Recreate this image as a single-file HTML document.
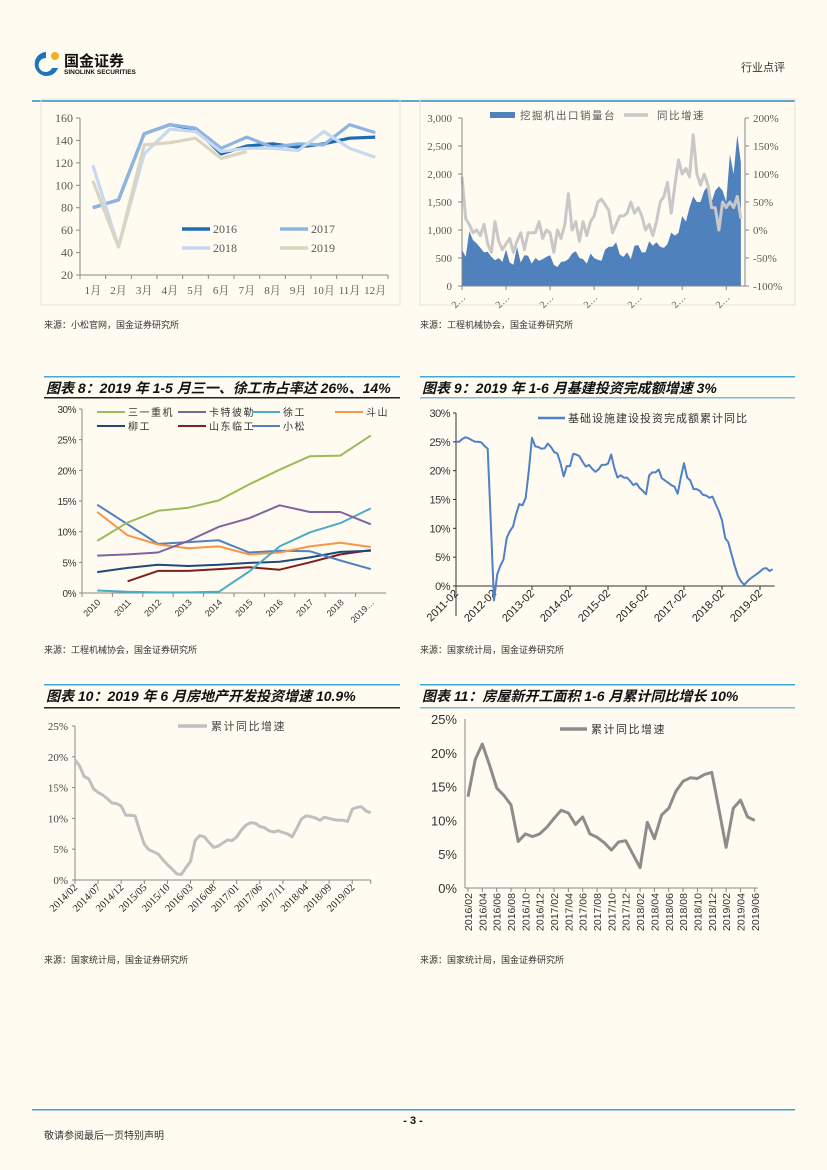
<!DOCTYPE html>
<html><head><meta charset="utf-8">
<style>
html,body{margin:0;padding:0;background:#fffbf0;}
svg{display:block;font-family:"Liberation Sans","Noto Sans CJK SC",sans-serif;}
.serif{font-family:"Liberation Serif","Noto Serif CJK SC",serif;}
.cjk{font-family:"Liberation Sans","Noto Sans CJK SC",sans-serif;}
</style></head>
<body>
<svg id="page" width="827" height="1170" viewBox="0 0 827 1170" xmlns="http://www.w3.org/2000/svg">
<rect x="0" y="0" width="827" height="1170" fill="#fffbf0"/>
<g>
  <path d="M46 52 a12 12 0 1 0 12 16 l-6 0 a7 7 0 1 1 -6 -10 z" fill="#1b75bb"/>
  <circle cx="55" cy="56" r="4" fill="#f4b223"/>
  <text x="64" y="66" font-size="15" font-weight="bold" fill="#111">国金证券</text>
  <text x="64" y="74" font-size="6.5" font-weight="bold" fill="#111">SINOLINK SECURITIES</text>
</g>
<text x="785" y="71" font-size="11" text-anchor="end" fill="#333">行业点评</text>
<rect x="32" y="100" width="763" height="2" fill="#5fa8cc"/>

<rect x="41" y="99" width="359" height="206" fill="none" stroke="#e4e2dc"/>
<rect x="420" y="99" width="375" height="206" fill="none" stroke="#e4e2dc"/>
<text x="44" y="328" font-size="9" fill="#333">来源：小松官网，国金证券研究所</text>
<text x="420" y="328" font-size="9" fill="#333">来源：工程机械协会，国金证券研究所</text>

<g>
<rect x="44" y="376" width="356" height="1.5" fill="#3fa9d6"/>
<text x="46" y="393" font-size="14" font-weight="bold" font-style="italic" fill="#111">图表 8：2019 年 1-5 月三一、徐工市占率达 26%、14%</text>
<rect x="44" y="397" width="356" height="1.5" fill="#222"/>
</g>
<g>
<rect x="420" y="376" width="375" height="1.5" fill="#3fa9d6"/>
<text x="422" y="393" font-size="14" font-weight="bold" font-style="italic" fill="#111">图表 9：2019 年 1-6 月基建投资完成额增速 3%</text>
<rect x="420" y="397" width="375" height="1.5" fill="#7fb9d6"/>
</g>
<text x="44" y="653" font-size="9" fill="#333">来源：工程机械协会，国金证券研究所</text>
<text x="420" y="653" font-size="9" fill="#333">来源：国家统计局，国金证券研究所</text>

<g>
<rect x="44" y="684" width="356" height="1.5" fill="#3fa9d6"/>
<text x="46" y="701" font-size="14" font-weight="bold" font-style="italic" fill="#111">图表 10：2019 年 6 月房地产开发投资增速 10.9%</text>
<rect x="44" y="707" width="356" height="1.5" fill="#222"/>
</g>
<g>
<rect x="420" y="684" width="375" height="1.5" fill="#3fa9d6"/>
<text x="422" y="701" font-size="14" font-weight="bold" font-style="italic" fill="#111">图表 11：房屋新开工面积 1-6 月累计同比增长 10%</text>
<rect x="420" y="707" width="375" height="1.5" fill="#7fb9d6"/>
</g>
<text x="44" y="963" font-size="9" fill="#333">来源：国家统计局，国金证券研究所</text>
<text x="420" y="963" font-size="9" fill="#333">来源：国家统计局，国金证券研究所</text>

<rect x="32" y="1109" width="763" height="1.5" fill="#3ea0d8"/>
<text x="413" y="1124" font-size="11" font-weight="bold" text-anchor="middle" fill="#111">- 3 -</text>
<text x="44" y="1139" font-size="10" fill="#333">敬请参阅最后一页特别声明</text>
<g id="charts"></g>
</svg>
<script>
// ---------- chart 1 data ----------
const c1Months = ["1月","2月","3月","4月","5月","6月","7月","8月","9月","10月","11月","12月"];
const c1Ticks = [20,40,60,80,100,120,140,160];
const c1Y2016 = [80,87,146,154,150,128,135,137,134,137,142,143];
const c1Y2017 = [80,87,146,154,151,133,143,134,137,136,154,147];
const c1Y2018 = [118,45,128,150,148,130,133,133,131,148,133,125];
const c1Y2019 = [104,45,136,138,142,124,130];
// ---------- chart 2 data ----------
const c2Sales = [650,520,980,820,760,680,600,610,520,460,500,430,
 650,420,380,700,420,550,540,400,500,450,480,520,
 550,380,340,430,440,480,580,620,500,480,400,580,
 500,470,450,650,700,700,780,560,520,600,480,720,
 730,600,600,800,720,780,700,680,750,950,900,950,
 1250,1150,1400,1600,1500,1500,1700,1780,1500,1700,1780,1700,
 1500,2350,2000,2700,2200];
const c2Growth = [95,20,10,-5,0,-10,10,-25,-40,15,-20,-35,
 -25,-15,-40,-20,-5,-35,-5,-5,-5,15,-15,0,
 -5,-40,0,-15,10,65,0,15,-20,15,-10,15,
 25,50,55,45,35,-5,10,25,25,30,50,30,
 40,25,0,10,-10,15,50,60,85,30,80,125,
 100,110,95,170,100,80,100,80,40,40,0,50,
 40,50,40,60,20];
const c2LeftTicks = [0,500,1000,1500,2000,2500,3000];
const c2LeftLabels = ["0","500","1,000","1,500","2,000","2,500","3,000"];
const c2RightTicks = [-100,-50,0,50,100,150,200];
// ---------- chart 8 data ----------
const c8Years = ["2010","2011","2012","2013","2014","2015","2016","2017","2018","2019…"];
const c8Sany = [8.5,11.5,13.4,13.9,15.1,17.7,20.1,22.3,22.4,25.7];
const c8Cat = [6.1,6.3,6.6,8.5,10.8,12.2,14.3,13.2,13.2,11.2];
const c8Xcmg = [0.4,0.2,0.1,0.1,0.2,3.5,7.6,9.9,11.4,13.8];
const c8Doosan = [13.2,9.4,7.9,7.3,7.6,6.3,6.6,7.6,8.2,7.5];
const c8Liugong = [3.4,4.1,4.6,4.4,4.6,4.9,5.1,5.8,6.7,6.9];
const c8Lingong = [null,1.9,3.6,3.6,3.9,4.2,3.8,5.0,6.3,7.0];
const c8Komatsu = [14.4,11.2,8.0,8.3,8.6,6.6,6.9,6.8,5.3,3.9];
const c8Ticks = [0,5,10,15,20,25,30];
// ---------- chart 9 data ----------
const c9Values = [25,25,25.5,25.8,25.6,25.3,25,25,24.9,24.3,23.8,11,
 -2.5,2,3.5,4.6,8.3,9.5,10.3,12.5,14.2,14,15.3,20,
 25.7,24.2,24.1,23.8,23.9,24.7,24.1,23.2,23,21.3,19,20.8,
 20.8,22.9,22.8,22.5,21.5,20.7,21,20.3,19.8,20.2,21,21,
 21.2,22.8,20.5,18.8,19.2,18.8,18.8,18.2,17.5,17.8,17,16.5,
 15.9,19.2,19.7,19.7,20.2,18.7,18.3,17.9,17.5,17.2,16,18.8,
 21.3,18.8,18.3,16.8,16.8,16.5,15.8,15.7,15.3,15.5,14.2,13,
 11.4,8.3,7.6,5.5,3.5,1.8,0.8,0.2,0.8,1.3,1.7,2.1,
 2.5,3,3.1,2.6,2.9];
const c9YearLabels = ["2011-02","2012-02","2013-02","2014-02","2015-02","2016-02","2017-02","2018-02","2019-02"];
const c9Ticks = [0,5,10,15,20,25,30];
// ---------- chart 10 data ----------
const c10Values = [19.5,18.5,16.8,16.4,14.8,14.2,13.8,13.2,12.5,12.4,12,10.5,10.5,10.4,8,5.8,4.9,4.6,4.2,3.3,2.5,1.8,1,0.9,2,3,6.4,7.2,7,6.1,5.3,5.5,6,6.5,6.4,7,8.1,8.9,9.3,9.2,8.7,8.5,8,7.8,8,7.7,7.5,7,8.4,9.9,10.4,10.3,10.1,9.7,10.2,10,9.8,9.7,9.7,9.5,11.5,11.8,11.9,11.2,10.9];
const c10Labels = ["2014/02","2014/07","2014/12","2015/05","2015/10","2016/03","2016/08","2017/01","2017/06","2017/11","2018/04","2018/09","2019/02"];
const c10Ticks = [0,5,10,15,20,25];
// ---------- chart 11 data ----------
const c11Values = [13.5,19,21.3,18.2,14.8,13.7,12.3,6.9,8,7.6,8,9,10.3,11.5,11.1,9.4,10.5,8,7.5,6.7,5.6,6.8,7,5,3,9.7,7.3,10.8,11.8,14.3,15.8,16.3,16.2,16.8,17.1,11.6,6,11.8,13,10.5,10];
const c11Labels = ["2016/02","2016/04","2016/06","2016/08","2016/10","2016/12","2017/02","2017/04","2017/06","2017/08","2017/10","2017/12","2018/02","2018/04","2018/06","2018/08","2018/10","2018/12","2019/02","2019/04","2019/06"];
const c11Ticks = [0,5,10,15,20,25];

const NS = "http://www.w3.org/2000/svg";
const root = document.getElementById("charts");
function mk(tag, attrs, parent){
  const e = document.createElementNS(NS, tag);
  for (const k in attrs) e.setAttribute(k, attrs[k]);
  (parent||root).appendChild(e);
  return e;
}
function txt(str, attrs, parent){
  const e = mk("text", attrs, parent);
  e.textContent = str;
  return e;
}
function pathOf(vals, xf, yf){
  let d = "", pen = false;
  vals.forEach((v,i)=>{
    if (v===null){ pen=false; return; }
    d += (pen?"L":"M") + xf(i).toFixed(1) + " " + yf(v).toFixed(1) + " ";
    pen = true;
  });
  return d;
}
function group(){ return mk("g", {}); }

// ===== Chart 1 =====
(function(){
  const g = group();
  
  
  const x0=80, x1=388, yb=275, yt=118;
  const bw=(x1-x0)/c1Months.length;
  const x = i => x0 + bw*(i+0.5);
  const y = v => yb - (v-20)/140*(yb-yt);
  mk("line",{x1:x0,y1:yt,x2:x0,y2:yb,stroke:"#888","stroke-width":1},g);
  mk("line",{x1:x0,y1:yb,x2:x1,y2:yb,stroke:"#888","stroke-width":1},g);
  c1Ticks.forEach(t=>{
    mk("line",{x1:x0-4,y1:y(t),x2:x0,y2:y(t),stroke:"#888"},g);
    const l = txt(String(t),{x:x0-7,y:y(t)+4,"font-size":12,"text-anchor":"end",fill:"#595959",class:"serif"},g);
    
    
  });
  c1Months.forEach((m,i)=>{
    mk("line",{x1:x0+bw*i,y1:yb,x2:x0+bw*i,y2:yb+4,stroke:"#888"},g);
    const l = txt(m,{x:x(i),y:yb+19,"font-size":11,"text-anchor":"middle",fill:"#595959",class:"serif"},g);
    
    
  });
  mk("line",{x1:x1,y1:yb,x2:x1,y2:yb+4,stroke:"#888"},g);
  const series=[[c1Y2016,"#1f6cb0","2016"],[c1Y2017,"#8eb4e3","2017"],[c1Y2018,"#c6d9f0","2018"],[c1Y2019,"#d9d5c0","2019"]];
  series.forEach(s=>{
    const p = mk("path",{d:pathOf(s[0],x,y),fill:"none",stroke:s[1],"stroke-width":3.2,"stroke-linejoin":"round"},g);
    
    
  });
  const leg=[["2016","#1f6cb0",182,229],["2017","#8eb4e3",280,229],["2018","#c6d9f0",182,248],["2019","#d9d5c0",280,248]];
  leg.forEach(l=>{
    const e = mk("g",{},g);
    
    
    mk("line",{x1:l[2],y1:l[3],x2:l[2]+28,y2:l[3],stroke:l[1],"stroke-width":3.5},e);
    txt(l[0],{x:l[2]+31,y:l[3]+4,"font-size":12,fill:"#595959",class:"serif"},e);
  });
})();

// ===== Chart 2 =====
(function(){
  const g = group();
  
  
  const x0=462, xr=745, yb=286, yt=118;
  const step=3.67;
  const x = i => x0 + i*step;
  const yL = v => yb - v/3000*(yb-yt);
  const yR = p => yb - (p+100)/300*(yb-yt);
  let d = "M"+x(0)+" "+yb+" ";
  c2Sales.forEach((v,i)=>{ d += "L"+x(i).toFixed(1)+" "+yL(v).toFixed(1)+" "; });
  d += "L"+x(c2Sales.length-1).toFixed(1)+" "+yb+" Z";
  const a = mk("path",{d:d,fill:"#4f81bd"},g);
  
  
  const ln = mk("path",{d:pathOf(c2Growth,x,yR),fill:"none",stroke:"#c8c8c8","stroke-width":3,"stroke-linejoin":"round"},g);
  
  
  mk("line",{x1:x0,y1:yt,x2:x0,y2:yb,stroke:"#888"},g);
  mk("line",{x1:xr,y1:yt,x2:xr,y2:yb,stroke:"#888"},g);
  mk("line",{x1:x0,y1:yb,x2:xr,y2:yb,stroke:"#888"},g);
  c2LeftTicks.forEach((t,i)=>{
    mk("line",{x1:x0-4,y1:yL(t),x2:x0,y2:yL(t),stroke:"#888"},g);
    const l = txt(c2LeftLabels[i],{x:x0-10,y:yL(t)+4,"font-size":11,"text-anchor":"end",fill:"#595959",class:"serif"},g);
    
    
  });
  c2RightTicks.forEach(t=>{
    mk("line",{x1:xr,y1:yR(t),x2:xr+4,y2:yR(t),stroke:"#888"},g);
    const l = txt(t+"%",{x:xr+8,y:yR(t)+4,"font-size":11,fill:"#595959",class:"serif"},g);
    
    
  });
  for (let i=0;i<c2Sales.length;i+=12){
    mk("line",{x1:x(i),y1:yb,x2:x(i),y2:yb+4,stroke:"#888"},g);
    const l = txt("2…",{x:x(i)+4,y:yb+12,"font-size":10,"text-anchor":"end",fill:"#595959",class:"serif",transform:"rotate(-45 "+(x(i)+4)+" "+(yb+12)+")"},g);
    
    
  }
  const l1 = mk("g",{},g);
  
  
  mk("rect",{x:490,y:112,width:25,height:6,fill:"#4f81bd"},l1);
  txt("挖掘机出口销量台",{x:520,y:119,"font-size":10.5,fill:"#595959","letter-spacing":"1.5"},l1);
  const l2 = mk("g",{},g);
  
  
  mk("line",{x1:624,y1:115,x2:648,y2:115,stroke:"#c8c8c8","stroke-width":3.5},l2);
  txt("同比增速",{x:657,y:119,"font-size":10.5,fill:"#595959","letter-spacing":"1.5"},l2);
})();

// ===== Chart 8 =====
(function(){
  const g = group();
  
  
  const x0=82, yb=593, yt=409, bw=30.4;
  const x1 = x0 + bw*c8Years.length;
  const x = i => x0 + bw*(i+0.5);
  const y = v => yb - v/30*(yb-yt);
  mk("line",{x1:x0,y1:yt,x2:x0,y2:yb,stroke:"#888"},g);
  mk("line",{x1:x0,y1:yb,x2:x1,y2:yb,stroke:"#888"},g);
  c8Ticks.forEach(t=>{
    mk("line",{x1:x0-3,y1:y(t),x2:x0,y2:y(t),stroke:"#888"},g);
    const l = txt(t+"%",{x:x0-6,y:y(t)+4,"font-size":10,"text-anchor":"end",fill:"#333","letter-spacing":"-0.5"},g);
    
    
  });
  c8Years.forEach((yr,i)=>{
    mk("line",{x1:x0+bw*i,y1:yb,x2:x0+bw*i,y2:yb+4,stroke:"#888"},g);
    const lx=x(i)+4, ly=yb+10;
    const l = txt(yr,{x:lx,y:ly,"font-size":9,"text-anchor":"end",fill:"#333",transform:"rotate(-45 "+lx+" "+ly+")"},g);
    
    
  });
  const series=[[c8Lingong,"#7f1f1f","山东临工"],[c8Liugong,"#1f497d","柳工"],[c8Komatsu,"#4f81bd","小松"],[c8Doosan,"#f79646","斗山"],[c8Xcmg,"#4bacc6","徐工"],[c8Cat,"#8064a2","卡特彼勒"],[c8Sany,"#9bbb59","三一重机"]];
  series.forEach(s=>{
    const p = mk("path",{d:pathOf(s[0],x,y),fill:"none",stroke:s[1],"stroke-width":2,"stroke-linejoin":"round"},g);
    
    
  });
  const leg=[["三一重机","#9bbb59",97,412],["卡特彼勒","#8064a2",178,412],["徐工","#4bacc6",252,412],["斗山","#f79646",335,412],["柳工","#1f497d",97,426],["山东临工","#7f1f1f",178,426],["小松","#4f81bd",252,426]];
  leg.forEach(l=>{
    const e = mk("g",{},g);
    
    
    mk("line",{x1:l[2],y1:l[3],x2:l[2]+28,y2:l[3],stroke:l[1],"stroke-width":2},e);
    txt(l[0],{x:l[2]+31,y:l[3]+4,"font-size":10,fill:"#333","letter-spacing":"1.5"},e);
  });
})();

// ===== Chart 9 =====
(function(){
  const g = group();
  
  
  const x0=456, yb=586, yt=413, step=38/12;
  const x = i => x0 + i*step;
  const y = v => yb - v/30*(yb-yt);
  mk("line",{x1:x0,y1:yt,x2:x0,y2:yb+30,stroke:"#333"},g);
  mk("line",{x1:x0,y1:yb,x2:x(c9Values.length-1)+2,y2:yb,stroke:"#333"},g);
  c9Ticks.forEach(t=>{
    mk("line",{x1:x0-3,y1:y(t),x2:x0,y2:y(t),stroke:"#333"},g);
    const l = txt(t+"%",{x:x0-6,y:y(t)+4,"font-size":11,"text-anchor":"end",fill:"#333","letter-spacing":"-0.5"},g);
    
    
  });
  c9YearLabels.forEach((lab,k)=>{
    const xi = x(k*12);
    mk("line",{x1:xi,y1:yb,x2:xi,y2:yb+4,stroke:"#333"},g);
    const lx=xi+3, ly=yb+8;
    const l = txt(lab,{x:lx,y:ly,"font-size":11,"text-anchor":"end",fill:"#222",transform:"rotate(-45 "+lx+" "+ly+")"},g);
    
    
  });
  const p = mk("path",{d:pathOf(c9Values,x,y),fill:"none",stroke:"#4f81c9","stroke-width":2,"stroke-linejoin":"round"},g);
  
  
  const e = mk("g",{},g);
  
  
  mk("line",{x1:538,y1:418,x2:565,y2:418,stroke:"#4f81c9","stroke-width":2.5},e);
  txt("基础设施建设投资完成额累计同比",{x:568,y:422,"font-size":11,fill:"#333","letter-spacing":"1"},e);
})();

// ===== Chart 10 =====
(function(){
  const g = group();
  
  
  const x0=75, yb=880, yt=726, step=4.62;
  const x = i => x0 + i*step;
  const y = v => yb - v/25*(yb-yt);
  const xEnd = x(c10Values.length-1);
  mk("line",{x1:x0,y1:yt,x2:x0,y2:yb,stroke:"#888"},g);
  mk("line",{x1:x0,y1:yb,x2:xEnd,y2:yb,stroke:"#888"},g);
  c10Ticks.forEach(t=>{
    mk("line",{x1:x0-3,y1:y(t),x2:x0,y2:y(t),stroke:"#888"},g);
    const l = txt(t+"%",{x:x0-7,y:y(t)+4,"font-size":11,"text-anchor":"end",fill:"#444",class:"serif"},g);
    
    
  });
  c10Labels.forEach((lab,k)=>{
    const xi = x(k*5);
    mk("line",{x1:xi,y1:yb,x2:xi,y2:yb+4,stroke:"#888"},g);
    const lx=xi+3, ly=yb+8;
    const l = txt(lab,{x:lx,y:ly,"font-size":10.5,"text-anchor":"end",fill:"#222",class:"serif",transform:"rotate(-45 "+lx+" "+ly+")"},g);
    
    
  });
  mk("line",{x1:xEnd,y1:yb,x2:xEnd,y2:yb+4,stroke:"#888"},g);
  const p = mk("path",{d:pathOf(c10Values,x,y),fill:"none",stroke:"#bfbfbf","stroke-width":3,"stroke-linejoin":"round"},g);
  
  
  const e = mk("g",{},g);
  
  
  mk("line",{x1:178,y1:726,x2:207,y2:726,stroke:"#bfbfbf","stroke-width":3.5},e);
  txt("累计同比增速",{x:211,y:730,"font-size":11,fill:"#444","letter-spacing":"1.5"},e);
})();

// ===== Chart 11 =====
(function(){
  const g = group();
  
  
  const x0=465, xs=468, yb=888, yt=719, step=7.17;
  const x = i => xs + i*step;
  const y = v => yb - v/25*(yb-yt);
  const xEnd = x(c11Values.length-1)+3;
  mk("line",{x1:x0,y1:yt,x2:x0,y2:yb,stroke:"#888"},g);
  mk("line",{x1:x0,y1:yb,x2:xEnd,y2:yb,stroke:"#888"},g);
  c11Ticks.forEach(t=>{
    const l = txt(t+"%",{x:x0-8,y:y(t)+5,"font-size":13,"text-anchor":"end",fill:"#333"},g);
    
    
  });
  c11Labels.forEach((lab,k)=>{
    const xi = x(k*2);
    mk("line",{x1:xi,y1:yb,x2:xi,y2:yb+4,stroke:"#888"},g);
    const lx=xi+4, ly=yb+5;
    const l = txt(lab,{x:lx,y:ly,"font-size":10.5,"text-anchor":"end",fill:"#333",transform:"rotate(-90 "+lx+" "+ly+")"},g);
    
    
  });
  const p = mk("path",{d:pathOf(c11Values,x,y),fill:"none",stroke:"#8c8c8c","stroke-width":3,"stroke-linejoin":"round"},g);
  
  
  const e = mk("g",{},g);
  
  
  mk("line",{x1:560,y1:729,x2:587,y2:729,stroke:"#8c8c8c","stroke-width":3.5},e);
  txt("累计同比增速",{x:591,y:733,"font-size":11,fill:"#333","letter-spacing":"1.5"},e);
})();
</script>
</body></html>
